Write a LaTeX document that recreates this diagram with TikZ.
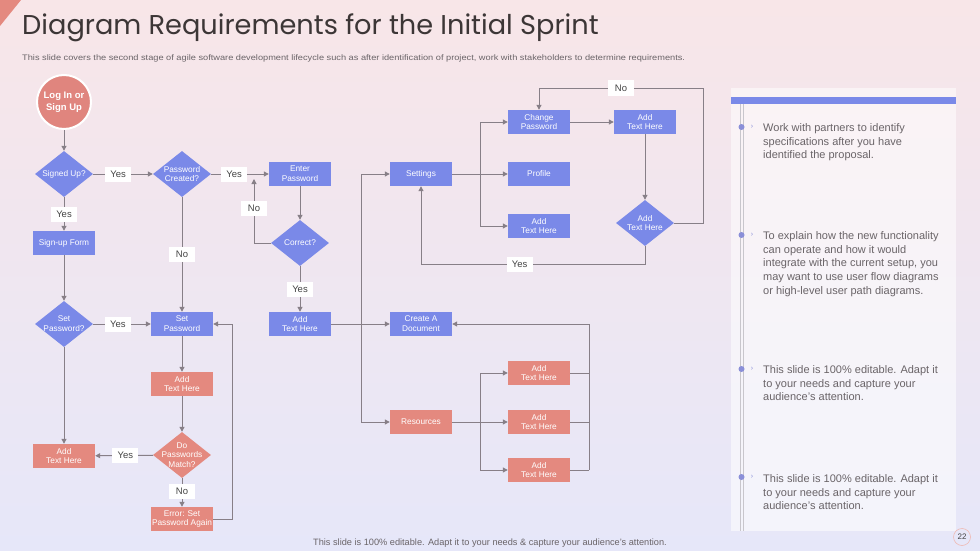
\documentclass[tikz,border=0pt]{standalone}
\usepackage{fontspec}
\setmainfont{Liberation Sans}
\newfontfamily\titlefont{Poppins}
\usetikzlibrary{shapes.geometric,arrows.meta}
\definecolor{bluen}{HTML}{7A89E8}
\definecolor{salmonn}{HTML}{E4897F}
\definecolor{circc}{HTML}{E0857E}
\definecolor{linec}{HTML}{877F87}
\definecolor{labtext}{HTML}{444444}
\definecolor{titlec}{HTML}{3C3636}
\definecolor{subc}{HTML}{6A6468}
\definecolor{bgtop}{HTML}{F8E6E8}
\definecolor{bgbot}{HTML}{E6E7F9}
\definecolor{panelline}{HTML}{C8C6CC}
\definecolor{bulc}{HTML}{8A8FD8}
\begin{document}
\begin{tikzpicture}[x=1pt,y=-1pt,
  box/.style={rectangle, minimum width=62pt, minimum height=24pt, inner sep=1pt, text=white, font=\fontsize{8.3}{9.8}\selectfont, align=center},
  bbox/.style={box, fill=bluen},
  sbox/.style={box, fill=salmonn},
  dia/.style={diamond, minimum width=58pt, minimum height=46pt, inner sep=0pt},
  dtext/.style={text=white, font=\fontsize{8.3}{9.8}\selectfont, align=center, inner sep=0pt},
  lab/.style={fill=white, text=labtext, font=\fontsize{9.5}{11}\selectfont, minimum width=26pt, minimum height=15pt, inner sep=1pt},
  arr/.style={draw=linec, line width=1pt, -{Triangle[length=5pt,width=5pt]}},
  ln/.style={draw=linec, line width=1pt},
  ptext/.style={anchor=north west, align=left, inner sep=0pt, text=subc, font=\fontsize{11}{13.6}\selectfont}
]
\useasboundingbox (0,0) rectangle (980,551);
\shade[top color=bgtop, bottom color=bgbot] (0,0) rectangle (980,551);
\fill[salmonn] (0,0) -- (21,0) -- (0,26) -- cycle;

% title
\node[anchor=base west, inner sep=0pt, text=titlec, font=\titlefont\fontsize{27.2}{30}\selectfont] (title) at (22,35) {Diagram Requirements for the Initial Sprint};
\node[anchor=base west, inner sep=0pt, text=subc, font=\fontsize{8}{9}\selectfont] (sub) at (22,61) {\scalebox{1.153}[1]{This slide covers the second stage of agile software development lifecycle such as after identification of project, work with stakeholders to determine requirements.}};

% left flow
\node[circle, fill=circc, draw=white, line width=2pt, minimum size=54pt, inner sep=0pt, text=white, align=center, font=\bfseries\fontsize{9.5}{11.5}\selectfont] (log) at (64,102) {Log In or\\Sign Up};
\node[dia, fill=bluen] (su) at (64,174) {};
\node[dtext] at (su) {Signed Up?};
\node[dia, fill=bluen] (pc) at (182,174) {};
\node[dtext] at (pc) {Password\\Created?};
\node[bbox] (ep) at (300,174) {Enter\\Password};
\node[dia, fill=bluen] (cor) at (300,243) {};
\node[dtext] at (cor) {Correct?};
\node[bbox] (at2) at (300,324) {Add\\Text Here};
\node[bbox] (suf) at (64,243) {Sign-up Form};
\node[dia, fill=bluen] (setp) at (64,324) {};
\node[dtext] at (setp) {Set\\Password?};
\node[bbox] (sp) at (182,324) {Set\\Password};
\node[sbox] (sa1) at (182,384) {Add\\Text Here};
\node[dia, fill=salmonn] (dpm) at (182,455) {};
\node[dtext] at (dpm) {Do\\Passwords\\Match?};
\node[sbox] (sa2) at (64,456) {Add\\Text Here};
\node[sbox] (err) at (182,519) {Error: Set\\Password Again};

\draw[arr] (log) -- (su);
\draw[arr] (su) -- node[lab, pos=0.42]{Yes} (pc);
\draw[arr] (pc) -- node[lab, pos=0.4]{Yes} (ep);
\draw[arr] (su) -- node[lab]{Yes} (suf);
\draw[arr] (pc) -- node[lab]{No} (sp);
\draw[arr] (ep) -- (cor);
\coordinate (ntip) at (254,179);
\draw[arr] (cor.west) -| node[lab, pos=0.77]{No} (ntip);
\draw[arr] (cor) -- node[lab]{Yes} (at2);
\draw[arr] (suf) -- (setp);
\draw[arr] (setp) -- node[lab, pos=0.43]{Yes} (sp);
\draw[arr] (setp) -- (sa2);
\draw[arr] (sp) -- (sa1);
\draw[arr] (sa1) -- (dpm);
\draw[arr] (dpm) -- node[lab, pos=0.48]{Yes} (sa2);
\draw[arr] (dpm) -- node[lab, pos=0.45]{No} (err);
\draw[arr] (err.east) -- ++(19,0) |- (sp.east);

% middle flow
\node[bbox] (set) at (421,174) {Settings};
\node[bbox] (cad) at (421,324) {Create A\\Document};
\node[sbox] (res) at (421,422) {Resources};
\node[bbox] (cp) at (539,122) {Change\\Password};
\node[bbox] (prof) at (539,174) {Profile};
\node[bbox] (ad1) at (539,226) {Add\\Text Here};
\node[bbox] (at1) at (645,122) {Add\\Text Here};
\node[dia, fill=bluen] (d2) at (645,223) {};
\node[dtext] at (d2) {Add\\Text Here};
\node[sbox] (r1) at (539,373) {Add\\Text Here};
\node[sbox] (r2) at (539,422) {Add\\Text Here};
\node[sbox] (r3) at (539,470) {Add\\Text Here};

\coordinate (j) at (361,324);
\draw[arr] (at2) -- (cad);
\draw[arr] (j) |- (set.west);
\draw[arr] (j) |- (res.west);

\coordinate (bj) at (480,174);
\draw[ln] (set.east) -- (bj);
\draw[arr] (bj) |- (cp.west);
\draw[arr] (bj) -- (prof.west);
\draw[arr] (bj) |- (ad1.west);
\draw[arr] (cp) -- (at1);
\draw[arr] (at1) -- (d2);
\coordinate (nb) at (703,88);
\draw[arr] (d2.east) -| (nb) -| node[lab, pos=0.25]{No} (cp.north);
\coordinate (yc) at (645,264);
\draw[arr] (d2.south) -- (yc) -| node[lab, pos=0.28]{Yes} (set.south);

\coordinate (rj) at (480,422);
\draw[ln] (res.east) -- (rj);
\draw[arr] (rj) |- (r1.west);
\draw[arr] (rj) -- (r2.west);
\draw[arr] (rj) |- (r3.west);
\coordinate (cc) at (589,470);
\draw[ln] (r3.east) -- (cc);
\draw[ln] (r1.east) -- (r1.east -| cc);
\draw[ln] (r2.east) -- (r2.east -| cc);
\draw[arr] (cc) |- (cad.east);

% right panel
\fill[white, opacity=0.55] (731,88) rectangle (956,531);
\fill[bluen] (731,97) rectangle (956,104);
\draw[panelline, line width=0.6pt] (740,104) -- (740,531);
\draw[panelline, line width=0.6pt] (743.5,104) -- (743.5,531);
\foreach \yy in {127,235,369,477}{
  \fill[bulc] (741.5,\yy) circle (3pt);
  \node[text=bulc, font=\fontsize{7}{8}\selectfont, inner sep=0pt] at (752,\yy-0.5) {›};
}
\node[ptext] (p1) at (763,123.5) {Work with partners to identify\\specifications after you have\\identified the proposal.};
\node[ptext] (p2) at (763,231.5) {To explain how the new functionality\\can operate and how it would\\integrate with the current setup, you\\may want to use user flow diagrams\\or high-level user path diagrams.};
\node[ptext] (p3) at (763,365.5) {This slide is 100\% editable. Adapt it\\to your needs and capture your\\audience's attention.};
\node[ptext] (p4) at (763,474.5) {This slide is 100\% editable. Adapt it\\to your needs and capture your\\audience's attention.};

% footer
\node[anchor=base, inner sep=0pt, text=subc, font=\fontsize{9.2}{10}\selectfont] (foot) at (490,545.5) {This slide is 100\% editable. Adapt it to your needs \& capture your audience's attention.};
\node[circle, draw=salmonn!60, line width=0.6pt, minimum size=17pt, inner sep=0pt, text=labtext, font=\fontsize{8}{9}\selectfont] (pg) at (962,537) {22};
\end{tikzpicture}
\end{document}
